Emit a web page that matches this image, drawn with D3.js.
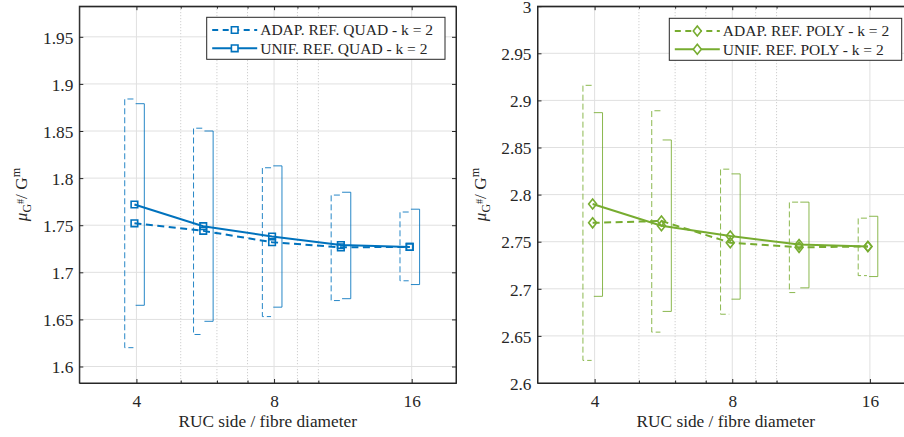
<!DOCTYPE html>
<html><head><meta charset="utf-8">
<script src="https://cdn.jsdelivr.net/npm/d3@7"></script>
<style>
body{margin:0;background:#fff}
svg{display:block}
</style>
</head><body>
<svg id="chart" width="904" height="437" font-family="Liberation Serif"></svg>
<script>
// ---------- data ----------
const xValues = [3.96, 5.6, 7.92, 11.2, 15.84];
const xTickValues = [4, 8, 16];
const xTickLabels = ["4", "8", "16"];
const xMinorTicks = [5, 6, 7, 9, 10];
const xLabel = "RUC side / fibre diameter";

const quadAdapMean = [1.752, 1.744, 1.732, 1.7265, 1.727];
const quadUnifMean = [1.772, 1.749, 1.738, 1.729, 1.727];
const quadAdapLow  = [1.620, 1.634, 1.653, 1.670, 1.691];
const quadAdapHigh = [1.884, 1.853, 1.811, 1.782, 1.764];
const quadUnifLow  = [1.665, 1.648, 1.663, 1.672, 1.687];
const quadUnifHigh = [1.879, 1.850, 1.813, 1.785, 1.767];
const quadYTicks = [1.6, 1.65, 1.7, 1.75, 1.8, 1.85, 1.9, 1.95];
const quadYTickLabels = ["1.6", "1.65", "1.7", "1.75", "1.8", "1.85", "1.9", "1.95"];
const quadLegend = ["ADAP. REF. QUAD - k = 2", "UNIF. REF. QUAD - k = 2"];

const polyAdapMean = [2.770, 2.772, 2.749, 2.744, 2.745];
const polyUnifMean = [2.790, 2.767, 2.756, 2.747, 2.745];
const polyAdapLow  = [2.624, 2.654, 2.673, 2.696, 2.714];
const polyAdapHigh = [2.916, 2.889, 2.827, 2.792, 2.775];
const polyUnifLow  = [2.692, 2.676, 2.689, 2.701, 2.713];
const polyUnifHigh = [2.887, 2.858, 2.822, 2.792, 2.777];
const polyYTicks = [2.6, 2.65, 2.7, 2.75, 2.8, 2.85, 2.9, 2.95, 3];
const polyYTickLabels = ["2.6", "2.65", "2.7", "2.75", "2.8", "2.85", "2.9", "2.95", "3"];
const polyLegend = ["ADAP. REF. POLY - k = 2", "UNIF. REF. POLY - k = 2"];

// ---------- drawing ----------
const svg = d3.select("#chart");
const AX = "#262626";
const FONT = "Liberation Serif";
const PW = 376.7, TOP = 6.2, BOTTOM = 383;
const FS = 17.3, LFS = 15.5;

function markerPath(kind) {
  if (kind === "square") { const s = 3.3; return `M${-s},${-s}H${s}V${s}H${-s}Z`; }
  const w = 4, h = 5; return `M0,${-h}L${w},0L0,${h}L${-w},0Z`;
}

function drawPanel(cfg) {
  const x = d3.scaleLog().domain([3, 20]).range([cfg.left, cfg.left + PW]);
  const y = d3.scaleLinear().domain(cfg.yDomain).range([BOTTOM, TOP]);
  const right = cfg.left + PW;
  const g = svg.append("g");

  // minor grid (dotted)
  g.append("g").selectAll("line").data(xMinorTicks).join("line")
    .attr("x1", d => x(d)).attr("x2", d => x(d)).attr("y1", TOP).attr("y2", BOTTOM)
    .attr("stroke", "#c4c4c4").attr("stroke-width", 1).attr("stroke-dasharray", "1,2");
  // major grid
  g.append("g").selectAll("line").data(xTickValues).join("line")
    .attr("x1", d => x(d)).attr("x2", d => x(d)).attr("y1", TOP).attr("y2", BOTTOM)
    .attr("stroke", "#e0e0e0").attr("stroke-width", 1);
  g.append("g").selectAll("line").data(cfg.yTicks).join("line")
    .attr("x1", cfg.left).attr("x2", right).attr("y1", d => y(d)).attr("y2", d => y(d))
    .attr("stroke", "#e0e0e0").attr("stroke-width", 1);

  const col = cfg.color;
  // error bars
  const ebA = g.append("g");
  xValues.forEach((xv, i) => {
    const px = x(xv);
    ebA.append("path")
      .attr("d", `M${px - 1},${y(cfg.adapHigh[i])}H${px - 9.7}V${y(cfg.adapLow[i])}H${px - 1}`)
      .attr("fill", "none").attr("stroke", col).attr("stroke-width", 1)
      .attr("stroke-dasharray", "6,3").attr("opacity", 0.85);
    ebA.append("path")
      .attr("d", `M${px + 1.2},${y(cfg.unifHigh[i])}H${px + 9.9}V${y(cfg.unifLow[i])}H${px + 1.2}`)
      .attr("fill", "none").attr("stroke", col).attr("stroke-width", 1).attr("opacity", 0.85);
  });

  const line = d3.line().x((d, i) => x(xValues[i])).y(d => y(d));
  g.append("path").datum(cfg.adapMean).attr("d", line)
    .attr("fill", "none").attr("stroke", col).attr("stroke-width", 2).attr("stroke-dasharray", "7,4.5");
  g.append("path").datum(cfg.unifMean).attr("d", line)
    .attr("fill", "none").attr("stroke", col).attr("stroke-width", 2);
  [cfg.adapMean, cfg.unifMean].forEach(arr => {
    g.append("g").selectAll("path").data(arr).join("path")
      .attr("transform", (d, i) => `translate(${x(xValues[i])},${y(d)})`)
      .attr("d", markerPath(cfg.marker))
      .attr("fill", "none").attr("stroke", col).attr("stroke-width", 1.6);
  });

  // axes
  const ax = g.append("g").attr("transform", `translate(0,${BOTTOM})`)
    .call(d3.axisBottom(x).tickValues(xTickValues).tickFormat((d, i) => xTickLabels[i])
      .tickSizeInner(-4).tickSizeOuter(0).tickPadding(11.4));
  const axMinor = g.append("g").attr("transform", `translate(0,${BOTTOM})`)
    .call(d3.axisBottom(x).tickValues(xMinorTicks).tickFormat("").tickSizeInner(-2.5).tickSizeOuter(0));
  const axTop = g.append("g").attr("transform", `translate(0,${TOP})`)
    .call(d3.axisTop(x).tickValues(xTickValues).tickFormat("").tickSizeInner(-4).tickSizeOuter(0));
  const axTopMinor = g.append("g").attr("transform", `translate(0,${TOP})`)
    .call(d3.axisTop(x).tickValues(xMinorTicks).tickFormat("").tickSizeInner(-2.5).tickSizeOuter(0));
  const ay = g.append("g").attr("transform", `translate(${cfg.left},0)`)
    .call(d3.axisLeft(y).tickValues(cfg.yTicks).tickFormat((d, i) => cfg.yTickLabels[i])
      .tickSizeInner(-4).tickSizeOuter(0).tickPadding(6));
  ay.selectAll("text").attr("dy", "0.36em");
  const ayR = g.append("g").attr("transform", `translate(${right},0)`)
    .call(d3.axisRight(y).tickValues(cfg.yTicks).tickFormat("").tickSizeInner(-4).tickSizeOuter(0));
  [ax, axMinor, axTop, axTopMinor, ay, ayR].forEach(a => {
    a.attr("font-family", FONT).attr("font-size", FS);
    a.selectAll("path.domain").attr("stroke", AX).attr("stroke-width", 1);
    a.selectAll("line").attr("stroke", AX).attr("stroke-width", 1);
    a.selectAll("text").attr("fill", AX);
  });
  g.append("rect").attr("x", cfg.left).attr("y", TOP).attr("width", PW).attr("height", BOTTOM - TOP)
    .attr("fill", "none").attr("stroke", AX).attr("stroke-width", 1);

  // x label
  g.append("text").attr("x", cfg.left + PW / 2).attr("y", 427.3)
    .attr("text-anchor", "middle").attr("font-size", FS).attr("font-family", FONT)
    .attr("fill", AX).text(xLabel);

  // y label
  const yl = g.append("text")
    .attr("transform", `translate(${cfg.left - 52},${(TOP + BOTTOM) / 2}) rotate(-90)`)
    .attr("text-anchor", "middle").attr("font-size", FS).attr("font-family", FONT).attr("fill", AX);
  yl.append("tspan").attr("font-style", "italic").text("μ");
  yl.append("tspan").attr("dy", 4).attr("font-size", 12).text("G");
  yl.append("tspan").attr("dy", -7).attr("font-size", 10).text("#");
  yl.append("tspan").attr("dy", 3).text("/ G");
  yl.append("tspan").attr("dy", -7).attr("font-size", 12).text("m");

  // legend
  const L = cfg.legend;
  const lg = g.append("g");
  lg.append("rect").attr("x", L.x).attr("y", L.y).attr("width", L.w).attr("height", 42)
    .attr("fill", "#fff").attr("stroke", AX).attr("stroke-width", 1);
  const rows = [{t: cfg.legendText[0], dash: "6,4.5"}, {t: cfg.legendText[1], dash: null}];
  rows.forEach((r, i) => {
    const cy = L.y + 12.7 + i * 18.3;
    const l = lg.append("line").attr("x1", L.x + 5.5).attr("x2", L.x + 50.5)
      .attr("y1", cy).attr("y2", cy).attr("stroke", col).attr("stroke-width", 2);
    if (r.dash) l.attr("stroke-dasharray", r.dash);
    lg.append("path").attr("transform", `translate(${L.x + 28},${cy})`)
      .attr("d", markerPath(cfg.marker)).attr("fill", "#fff").attr("stroke", col).attr("stroke-width", 1.6);
    lg.append("text").attr("x", L.x + 53.5).attr("y", cy + 5.2)
      .attr("font-size", LFS).attr("font-family", FONT).attr("fill", AX).text(r.t);
  });
}

drawPanel({
  left: 79.3, yDomain: [1.5825, 1.9825], yTicks: quadYTicks, yTickLabels: quadYTickLabels,
  adapMean: quadAdapMean, unifMean: quadUnifMean,
  adapLow: quadAdapLow, adapHigh: quadAdapHigh, unifLow: quadUnifLow, unifHigh: quadUnifHigh,
  color: "#0072BD", marker: "square", legendText: quadLegend,
  legend: {x: 206.7, y: 17.3, w: 238.3}
});
drawPanel({
  left: 537.5, yDomain: [2.6, 3.0], yTicks: polyYTicks, yTickLabels: polyYTickLabels,
  adapMean: polyAdapMean, unifMean: polyUnifMean,
  adapLow: polyAdapLow, adapHigh: polyAdapHigh, unifLow: polyUnifLow, unifHigh: polyUnifHigh,
  color: "#77AC30", marker: "diamond", legendText: polyLegend,
  legend: {x: 669.3, y: 18.3, w: 232.4}
});
</script>
</body></html>
